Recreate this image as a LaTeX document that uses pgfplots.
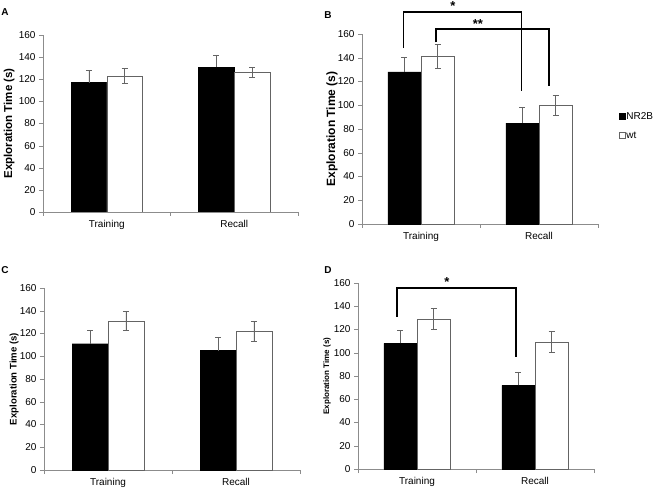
\documentclass[border=0pt]{standalone}
\usepackage{fontspec}
\setmainfont{Liberation Sans}
\usepackage{pgfplots}
\pgfplotsset{compat=1.18}
\definecolor{axgray}{RGB}{140,140,140}
\definecolor{errgray}{RGB}{100,100,100}
\pgfplotsset{
  panel/.style={
    scale only axis,
    axis x line=bottom, axis y line=left,
    axis line style={-, draw=axgray},
    ymin=0, ymax=160, ytick={0,20,...,160},
    xmin=-0.5, xmax=1.5,
    xtick={-0.5,0.5,1.5}, xticklabels={},
    extra x ticks={0,1}, extra x tick labels={Training,Recall},
    extra x tick style={major tick length=0pt, xticklabel style={yshift=-5pt}},
    tick align=outside, major tick length=4pt,
    tick style={draw=axgray},
    tick label style={font=\fontsize{10}{12}\selectfont},
    /pgf/number format/assume math mode=true,
    ylabel={Exploration Time (s)},
    ylabel style={anchor=center, font=\bfseries\fontsize{10}{12}\selectfont},
  },
  blackbar/.style={ybar, bar width=0.28, bar shift=0, fill=black, draw=black,
    error bars/.cd, y dir=plus, y explicit,
    error bar style={errgray, line width=0.8pt},
    error mark options={rotate=90, mark size=3pt, errgray, line width=0.8pt}},
  whitebar/.style={ybar, bar width=0.28, bar shift=0, fill=white, draw=errgray,
    error bars/.cd, y dir=both, y explicit,
    error bar style={errgray, line width=0.8pt},
    error mark options={rotate=90, mark size=3pt, errgray, line width=0.8pt}},
  bracket/.style={black, line width=1.5pt, sharp plot, no marks, forget plot},
}
\begin{document}
\begin{tikzpicture}[x=1pt,y=1pt]
\path[use as bounding box] (0,0) rectangle (661,490);
% Panel A
\begin{axis}[panel, at={(43pt,278pt)}, anchor=south west, width=255pt, height=177pt,
  ylabel style={at={(rel axis cs:-0.133,0.5)}, font=\bfseries\fontsize{11.5}{13}\selectfont}]
\addplot[blackbar] coordinates {(-0.14,117) +- (0,11) (0.86,131) +- (0,11)};
\addplot[whitebar] coordinates {(0.14,123) +- (0,7) (1.14,126) +- (0,4.5)};
\end{axis}
% Panel B
\begin{axis}[panel, at={(362pt,266pt)}, anchor=south west, width=236pt, height=190pt, clip=false,
  ylabel style={at={(rel axis cs:-0.127,0.5)}, font=\bfseries\fontsize{12}{13}\selectfont},
  legend image code/.code={\draw[#1] (0pt,-2.5pt) rectangle (5.5pt,3pt);},
  legend cell align=left,
  legend style={draw=none, fill=none, at={(rel axis cs:1.09,0.595)}, anchor=north west,
    font=\fontsize{10}{12}\selectfont, row sep=9pt, inner sep=0pt, nodes={inner sep=1pt}}]
\addplot[blackbar] coordinates {(-0.14,128) +- (0,12.5) (0.86,85) +- (0,13)};
\addlegendentry{NR2B}
\addplot[whitebar] coordinates {(0.14,141) +- (0,10) (1.14,100) +- (0,8.5)};
\addlegendentry{wt}
\addplot[bracket] coordinates {(-0.15,148) (-0.15,178.5) (0.85,178.5) (0.85,112)};
\addplot[bracket] coordinates {(0.127,153) (0.127,164) (1.085,164) (1.085,116)};
\node[anchor=base, font=\bfseries\fontsize{13}{14}\selectfont, inner sep=0pt] at (axis cs:0.27,179.5) {*};
\node[anchor=base, font=\bfseries\fontsize{13}{14}\selectfont, inner sep=0pt] at (axis cs:0.483,165) {**};
\end{axis}
% Panel C
\begin{axis}[panel, at={(44pt,20pt)}, anchor=south west, width=256pt, height=182pt,
  ylabel style={at={(rel axis cs:-0.117,0.5)}, font=\bfseries\fontsize{9.6}{11}\selectfont}]
\addplot[blackbar] coordinates {(-0.14,111) +- (0,12) (0.86,105) +- (0,12)};
\addplot[whitebar] coordinates {(0.14,131) +- (0,8) (1.14,122) +- (0,9)};
\end{axis}
% Panel D
\begin{axis}[panel, at={(358pt,21pt)}, anchor=south west, width=236pt, height=186pt, clip=false,
  ylabel style={at={(rel axis cs:-0.131,0.5)}, font=\bfseries\fontsize{8}{10}\selectfont}]
\addplot[blackbar] coordinates {(-0.14,108) +- (0,11.5) (0.86,72) +- (0,11.5)};
\addplot[whitebar] coordinates {(0.14,129) +- (0,9) (1.14,109) +- (0,9)};
\addplot[bracket] coordinates {(-0.17,131) (-0.17,155.7) (0.84,155.7) (0.84,96)};
\node[anchor=base, font=\bfseries\fontsize{13}{14}\selectfont, inner sep=0pt] at (axis cs:0.254,156.7) {*};
\end{axis}
% panel letters
\node[font=\bfseries\fontsize{10}{12}\selectfont] at (5,478) {A};
\node[font=\bfseries\fontsize{10}{12}\selectfont] at (328,475) {B};
\node[font=\bfseries\fontsize{10}{12}\selectfont] at (5,220) {C};
\node[font=\bfseries\fontsize{10}{12}\selectfont] at (328,220) {D};
\end{tikzpicture}
\end{document}
